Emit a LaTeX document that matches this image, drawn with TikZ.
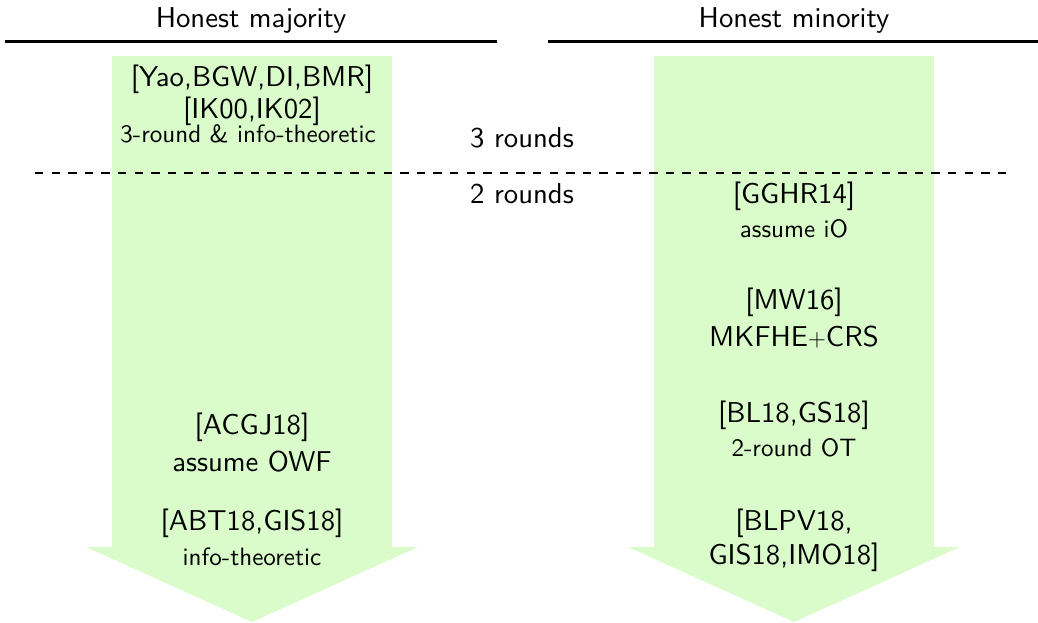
\documentclass[tikz,border=0pt]{standalone}
\usepackage{fontspec}
\setsansfont{lmsans10-regular.otf}
\definecolor{arrowgreen}{RGB}{218,252,202}
\begin{document}
\begin{tikzpicture}[x=1pt,y=-1pt,
  big/.style={font=\fontsize{28.7}{34}\selectfont\sffamily, inner sep=0pt, anchor=base},
  small/.style={font=\fontsize{25.1}{30}\selectfont\sffamily, inner sep=0pt, anchor=base},
  arrowfill/.style={fill=arrowgreen, draw=none},
  headrule/.style={line width=2.7pt},
  roundsep/.style={line width=1.1pt, dash pattern=on 8.3pt off 8.3pt}]
\useasboundingbox (0,0) rectangle (1038,622);
% arrows
\fill[arrowfill] (112,56) -- (392,56) -- (392,547) -- (418,547) -- (252,622) -- (86,547) -- (112,547) -- cycle;
\fill[arrowfill] (654,56) -- (934,56) -- (934,547) -- (960,547) -- (794,622) -- (628,547) -- (654,547) -- cycle;
% headings
\node[big] (hmaj) at (251,27) {Honest majority};
\node[big] (hmin) at (794,27) {Honest minority};
\coordinate (l1a) at (5,41.5); \coordinate (l1b) at (497,41.5);
\coordinate (l2a) at (548,41.5); \coordinate (l2b) at (1038,41.5);
\draw[headrule] (l1a) -- (l1b);
\draw[headrule] (l2a) -- (l2b);
% separator
\coordinate (da) at (35,173); \coordinate (db) at (1010,173);
\draw[roundsep] (da) -- (db);
\node[big] (r3) at (522,147) {3 rounds};
\node[big] (r2) at (522,203) {2 rounds};
% left column
\node[big] (a1) at (252,86) {[Yao,BGW,DI,BMR]};
\node[big] (a2) at (252,118) {[IK00,IK02]};
\node[small] (a3) at (248,142) {3-round \& info-theoretic};
\node[big] (b1) at (252,434) {[ACGJ18]};
\node[big] (b2) at (252,471) {assume OWF};
\node[big] (c1) at (252,530) {[ABT18,GIS18]};
\node[small] (c2) at (252,565) {info-theoretic};
% right column
\node[big] (d1) at (794,203) {[GGHR14]};
\node[small] (d2) at (794,237) {assume iO};
\node[big] (e1) at (794,309) {[MW16]};
\node[big] (e2) at (794,346) {MKFHE$+$CRS};
\node[big] (f1) at (794,422) {[BL18,GS18]};
\node[small] (f2) at (794,456) {2-round OT};
\node[big] (g1) at (794,530) {[BLPV18,};
\node[big] (g2) at (794,564) {GIS18,IMO18]};
\end{tikzpicture}
\end{document}
